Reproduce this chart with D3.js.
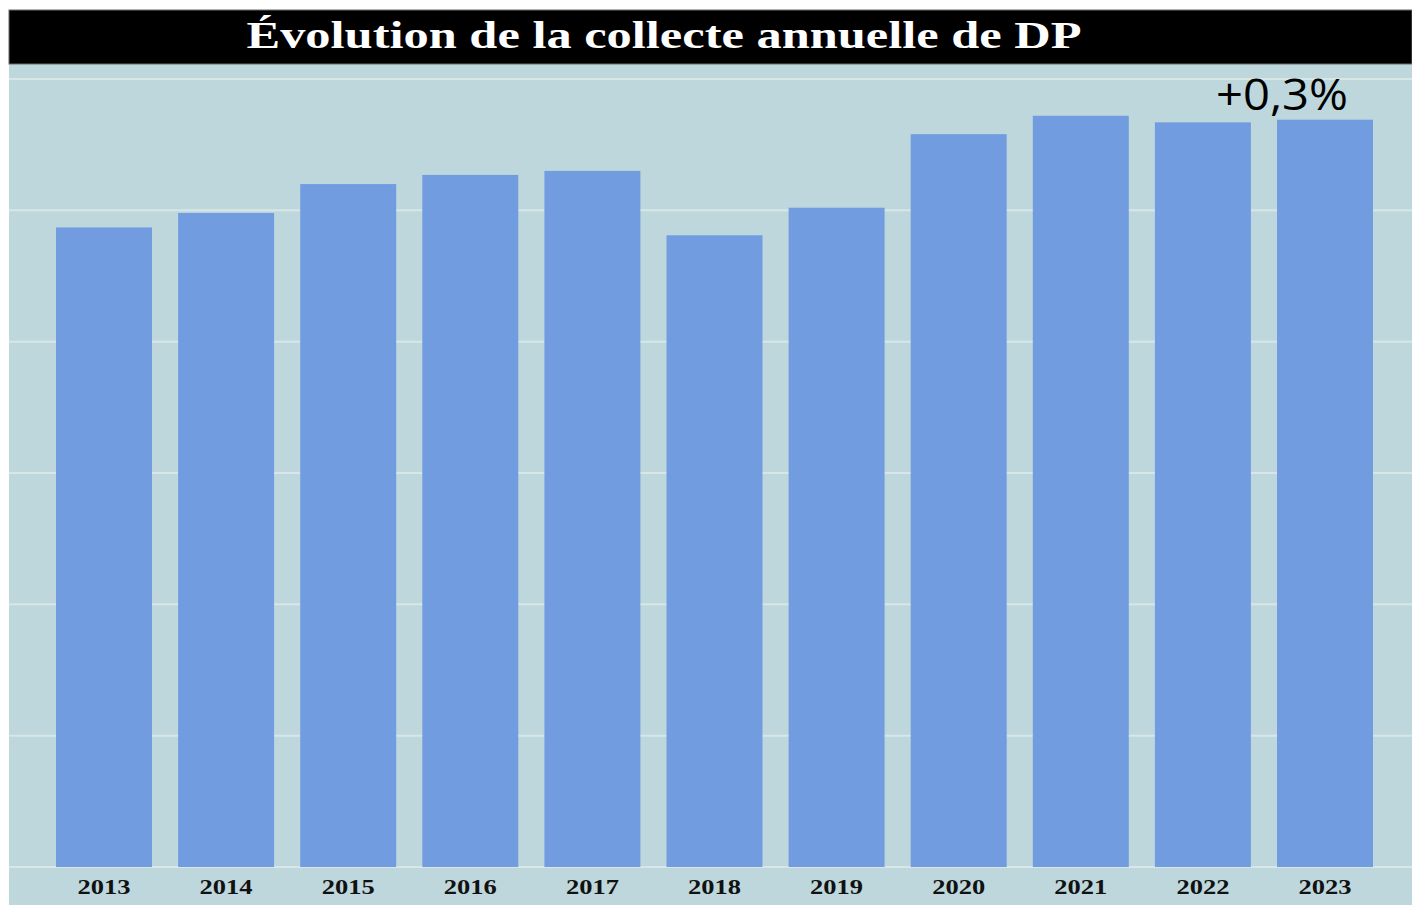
<!DOCTYPE html>
<html>
<head>
<meta charset="utf-8">
<script src="https://cdn.jsdelivr.net/npm/d3@7"></script>
<style>
  body { margin: 0; background: #fff; }
  svg { display: block; }
</style>
</head>
<body>
<svg id="chart" width="1412" height="905"></svg>
<script>
// data (no axis values shown, units = gridline steps)
const years = ["2013", "2014", "2015", "2016", "2017", "2018", "2019", "2020", "2021", "2022", "2023"];
const collecte = [4.87, 4.98, 5.20, 5.27, 5.30, 4.81, 5.02, 5.58, 5.72, 5.67, 5.69];
const gridTicks = [0, 1, 2, 3, 4, 5, 6];
const titleText = "Évolution de la collecte annuelle de DP";
const annotation = "+0,3%";

const svg = d3.select('#chart');
const W = 1412, H = 905;

// panel
svg.append('rect')
  .attr('x', 9).attr('y', 64)
  .attr('width', W - 9).attr('height', H - 64)
  .attr('fill', '#bdd7dc');

// title bar
svg.append('rect')
  .attr('x', 9).attr('y', 10)
  .attr('width', W - 9).attr('height', 54)
  .attr('fill', '#000')
  .attr('stroke', '#6a6a6a')
  .attr('stroke-width', 1);

svg.append('text')
  .attr('x', 664).attr('y', 48)
  .attr('text-anchor', 'middle')
  .style('font-family', '"Liberation Serif", "Times New Roman", serif')
  .style('font-weight', 'bold')
  .style('font-size', '38px')
  .attr('fill', '#fff')
  .attr('textLength', 835)
  .attr('lengthAdjust', 'spacingAndGlyphs')
  .text(titleText);

const margin = { left: 43.8, right: 1385.2, top: 79, bottom: 867 };

const x = d3.scaleBand()
  .domain(years)
  .range([margin.left, margin.right])
  .paddingInner(0.214)
  .paddingOuter(0.1);

const y = d3.scaleLinear()
  .domain([0, 6])
  .range([margin.bottom, margin.top]);

// grid
svg.selectAll('.grid')
  .data(gridTicks)
  .join('line')
  .attr('class', 'grid')
  .attr('x1', 9).attr('x2', W)
  .attr('y1', d => y(d)).attr('y2', d => y(d))
  .attr('stroke', '#d9e6e8')
  .attr('stroke-width', 2);

// bars
svg.selectAll('.bar')
  .data(collecte)
  .join('rect')
  .attr('class', 'bar')
  .attr('x', (d, i) => x(years[i]))
  .attr('y', d => y(d))
  .attr('width', x.bandwidth())
  .attr('height', d => y(0) - y(d))
  .attr('fill', '#729ce0');

// x axis labels
const xAxis = d3.axisBottom(x).tickSize(0).tickPadding(11);
const gx = svg.append('g')
  .attr('transform', `translate(0,${y(0)})`)
  .call(xAxis);
gx.select('.domain').remove();
gx.selectAll('text')
  .attr('dy', '0.71em')
  .style('font-family', '"Liberation Serif", "Times New Roman", serif')
  .style('font-weight', 'bold')
  .style('font-size', '22px')
  .attr('fill', '#111')
  .attr('textLength', 53)
  .attr('lengthAdjust', 'spacingAndGlyphs');

// annotation over 2022/2023
svg.append('text')
  .attr('x', 1282)
  .attr('y', 110)
  .attr('text-anchor', 'middle')
  .style('font-family', '"Open Sans", "Noto Sans", sans-serif')
  .style('font-size', '44px')
  .attr('fill', '#000')
  .attr('textLength', 132)
  .attr('lengthAdjust', 'spacingAndGlyphs')
  .text(annotation);
</script>
</body>
</html>
